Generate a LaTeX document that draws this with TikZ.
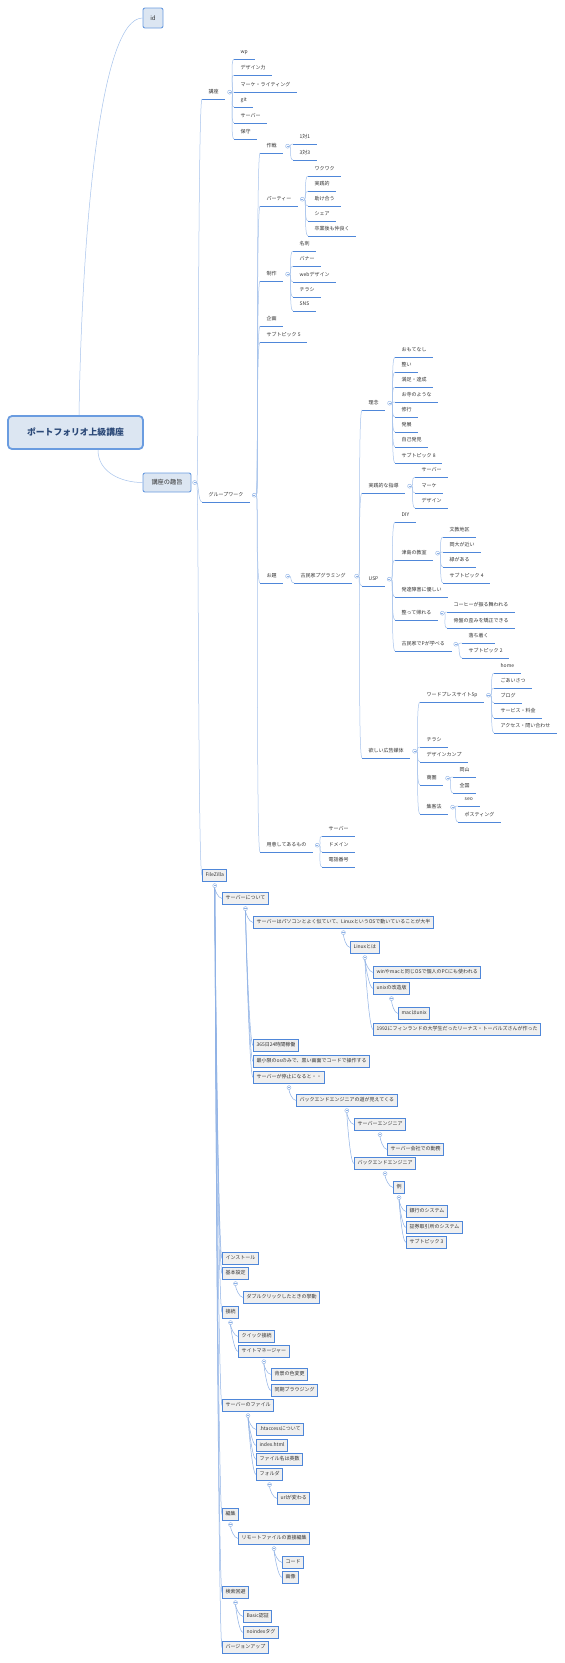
\documentclass[tikz,border=0pt]{standalone}
\usepackage{fontspec}
\setmainfont{Noto Sans CJK JP}
\usepackage{xcolor}
\usetikzlibrary{positioning}
\definecolor{ln}{HTML}{A6C3EC}
\definecolor{dn}{HTML}{8EB1E6}
\definecolor{ul}{HTML}{4F87D9}
\definecolor{bx}{HTML}{4F87D9}
\definecolor{boxfill}{HTML}{EFEFEF}
\definecolor{hubfill}{HTML}{DCE6F2}
\definecolor{hubline}{HTML}{6A9CE0}
\definecolor{txt}{HTML}{333333}
\definecolor{fl}{HTML}{8DB1E6}
\definecolor{ttl}{HTML}{2A4877}

\begin{document}
\begin{tikzpicture}[
  x=1pt, y=-1pt,
  font=\fontsize{5}{6}\selectfont, text=txt,
  topic/.style={anchor=south west, inner xsep=6.5pt, inner ysep=4.1pt,
    text height=4pt, text depth=1pt,
    append after command={\pgfextra{\let\ulnode=\tikzlastnode}
      (\ulnode.south west) edge[draw=ul, line width=1pt] (\ulnode.south east)}},
  card/.style={draw=bx, line width=1.1pt, fill=boxfill, anchor=north west,
    inner xsep=3pt, inner ysep=3.4pt, text height=4pt, text depth=1pt},
  hub/.style={draw=hubline, line width=.9pt, fill=hubfill, rounded corners=2pt,
    inner sep=0pt, align=center},
  root/.style={hub, line width=1.8pt, rounded corners=4pt,
    font=\fontsize{8.8}{10}\selectfont\bfseries, text=ttl},
  fold/.style={circle, draw=fl, fill=white, line width=.4pt, minimum size=4pt,
    inner sep=0pt, path picture={\draw[fl, line width=.4pt]
      ([xshift=-1.1pt]path picture bounding box.center) --
      ([xshift=1.1pt]path picture bounding box.center);}},
  branch/.style={every edge/.style={draw=ln, line width=.5pt,
    to path={.. controls +(4,0) and +(-4,0) .. (\tikztotarget)}}},
  drop/.style={every edge/.style={draw=dn, line width=.5pt,
    to path={.. controls +(0,4) and +(-4,0) .. (\tikztotarget)}}}
]
\fill[white] (0,0) rectangle (565,1663);
\useasboundingbox (0,0) rectangle (565,1663);

% root, id, gist
\node[root, minimum width=135pt, minimum height=33pt] (root) at (75.5,432.5) {ポートフォリオ上級講座};
\node[hub, minimum width=20pt, minimum height=20pt, font=\fontsize{6}{7}\selectfont] (id) at (153,18) {id};
\node[hub, minimum width=48pt, minimum height=19pt, font=\fontsize{6.2}{7}\selectfont] (gist) at (167,482.5) {講座の趣旨};
\node[fold, right=1pt of gist] (gist-c) {};

% 講座
\node[topic] (kz) at (202,99) {講座};
\node[fold, right=2pt of kz] (kz-c) {};
\node[topic] (wp) at (234,59) {wp};
\node[topic] (dz) at (234,75) {デザイン力};
\node[topic] (mk) at (234,92) {マーケ・ライティング};
\node[topic] (gt) at (234,107) {git};
\node[topic] (sv1) at (234,123) {サーバー};
\node[topic] (hs) at (234,139) {保守};

% グループワーク
\node[topic] (gw) at (202,502) {グループワーク};
\node[fold, right=2pt of gw] (gw-c) {};
\node[topic] (sk) at (260,153) {作戦};
\node[fold, right=2pt of sk] (sk-c) {};
\node[topic] (s11) at (293,144) {1対1};
\node[topic] (s33) at (293,160) {3対3};
\node[topic] (pt) at (260,206) {パーティー};
\node[fold, right=2pt of pt] (pt-c) {};
\node[topic] (p1) at (308,176) {ワクワク};
\node[topic] (p2) at (308,191) {実践的};
\node[topic] (p3) at (308,206) {助け合う};
\node[topic] (p4) at (308,221) {シェア};
\node[topic] (p5) at (308,236) {卒業後も仲良く};
\node[topic] (ss) at (260,281) {制作};
\node[fold, right=2pt of ss] (ss-c) {};
\node[topic] (m1) at (293,251) {名刺};
\node[topic] (m2) at (293,266) {バナー};
\node[topic] (m3) at (293,282) {webデザイン};
\node[topic] (m4) at (293,297) {チラシ};
\node[topic] (m5) at (293,311) {SNS};
\node[topic] (kk) at (260,326) {企画};
\node[topic] (st5) at (260,342) {サブトピック 5};
\node[topic] (od) at (260,583) {お題};
\node[fold, right=2pt of od] (od-c) {};
\node[topic] (kp) at (294,583) {古民家プグラミング};
\node[fold, right=2pt of kp] (kp-c) {};

\node[topic] (rn) at (362,410) {理念};
\node[fold, right=2pt of rn] (rn-c) {};
\node[topic] (r1) at (395,357) {おもてなし};
\node[topic] (r2) at (395,372) {整い};
\node[topic] (r3) at (395,387) {満足・達成};
\node[topic] (r4) at (395,402) {お寺のような};
\node[topic] (r5) at (395,417) {修行};
\node[topic] (r6) at (395,432) {発展};
\node[topic] (r7) at (395,447) {自己発見};
\node[topic] (r8) at (395,463) {サブトピック 8};

\node[topic] (jd) at (362,493) {実践的な指導};
\node[fold, right=2pt of jd] (jd-c) {};
\node[topic] (j1) at (415,477) {サーバー};
\node[topic] (j2) at (415,493) {マーケ};
\node[topic] (j3) at (415,508) {デザイン};

\node[topic] (usp) at (362,586) {USP};
\node[fold, right=2pt of usp] (usp-c) {};
\node[topic] (u1) at (395,522) {DIY};
\node[topic] (u2) at (395,560) {津島の教室};
\node[fold, right=2pt of u2] (u2-c) {};
\node[topic] (t1) at (443,537) {文教地区};
\node[topic] (t2) at (443,552) {岡大が近い};
\node[topic] (t3) at (443,567) {緑がある};
\node[topic] (t4) at (443,583) {サブトピック 4};
\node[topic] (u3) at (395,597) {発達障害に優しい};
\node[topic] (u4) at (395,620) {整って帰れる};
\node[fold, right=2pt of u4] (u4-c) {};
\node[topic] (c1) at (447,612) {コーヒーが振る舞われる};
\node[topic] (c2) at (447,628) {骨盤の歪みを矯正できる};
\node[topic] (u5) at (395,651) {古民家でPが学べる};
\node[fold, right=2pt of u5] (u5-c) {};
\node[topic] (o1) at (462,643) {落ち着く};
\node[topic] (o2) at (462,658) {サブトピック 2};

\node[topic] (hk) at (362,758) {欲しい広告媒体};
\node[fold, right=2pt of hk] (hk-c) {};
\node[topic] (h1) at (420,702) {ワードプレスサイト5p};
\node[fold, right=2pt of h1] (h1-c) {};
\node[topic] (w1) at (494,673) {home};
\node[topic] (w2) at (494,688) {ごあいさつ};
\node[topic] (w3) at (494,703) {ブログ};
\node[topic] (w4) at (494,718) {サービス・料金};
\node[topic] (w5) at (494,733) {アクセス・問い合わせ};
\node[topic] (h2) at (420,747) {チラシ};
\node[topic] (h3) at (420,762) {デザインカンプ};
\node[topic] (h4) at (420,785) {商圏};
\node[fold, right=2pt of h4] (h4-c) {};
\node[topic] (a1) at (453,777) {岡山};
\node[topic] (a2) at (453,793) {全国};
\node[topic] (h5) at (420,814) {集客法};
\node[fold, right=2pt of h5] (h5-c) {};
\node[topic] (q1) at (458,806) {seo};
\node[topic] (q2) at (458,822) {ポスティング};

\node[topic] (yo) at (260,852) {用意してあるもの};
\node[fold, right=2pt of yo] (yo-c) {};
\node[topic] (y1) at (322,836) {サーバー};
\node[topic] (y2) at (322,852) {ドメイン};
\node[topic] (y3) at (322,867) {電話番号};

% FileZilla
\node[card] (fz) at (202,869) {FileZilla};
\node[fold, below=1.5pt of fz] (fz-c) {};
\node[card] (sv) at (222,892) {サーバーについて};
\node[fold, below=1.5pt of sv] (sv-c) {};
\node[card] (b1) at (253,916) {サーバーはパソコンとよく似ていて、LinuxというOSで動いていることが大半};
\node[fold, below=1.5pt of b1] (b1-c) {};
\node[card] (lx) at (350,941) {Linuxとは};
\node[fold, below=1.5pt of lx] (lx-c) {};
\node[card] (l1) at (373,966) {winやmacと同じOSで個人のPCにも使われる};
\node[card] (l2) at (373,982) {unixの改造版};
\node[fold, below=1.5pt of l2] (l2-c) {};
\node[card] (l4) at (398,1007) {macはunix};
\node[card] (l3) at (373,1023) {1992にフィンランドの大学生だったリーナス・トーバルズさんが作った};
\node[card] (b2) at (253,1039) {365日24時間稼働};
\node[card] (b3) at (253,1055) {最小限のosのみで、黒い画面でコードで操作する};
\node[card] (b4) at (253,1071) {サーバーが停止になると・・};
\node[fold, below=1.5pt of b4] (b4-c) {};
\node[card] (be) at (296,1094) {バックエンドエンジニアの道が見えてくる};
\node[fold, below=1.5pt of be] (be-c) {};
\node[card] (se) at (354,1118) {サーバーエンジニア};
\node[fold, below=1.5pt of se] (se-c) {};
\node[card] (sc) at (387,1143) {サーバー会社での勤務};
\node[card] (bk) at (354,1157) {バックエンドエンジニア};
\node[fold, below=1.5pt of bk] (bk-c) {};
\node[card] (ex) at (393,1181) {例};
\node[fold, below=1.5pt of ex] (ex-c) {};
\node[card] (e1) at (406,1205) {銀行のシステム};
\node[card] (e2) at (406,1221) {証券取引所のシステム};
\node[card] (e3) at (406,1236) {サブトピック 3};
\node[card] (ins) at (222,1252) {インストール};
\node[card] (kh) at (222,1267) {基本設定};
\node[fold, below=1.5pt of kh] (kh-c) {};
\node[card] (dc) at (243,1291) {ダブルクリックしたときの挙動};
\node[card] (cn) at (222,1306) {接続};
\node[fold, below=1.5pt of cn] (cn-c) {};
\node[card] (qc) at (238,1330) {クイック接続};
\node[card] (sm) at (238,1345) {サイトマネージャー};
\node[fold, below=1.5pt of sm] (sm-c) {};
\node[card] (bg) at (271,1368) {背景の色変更};
\node[card] (sy) at (271,1384) {同期ブラウジング};
\node[card] (sf) at (222,1399) {サーバーのファイル};
\node[fold, below=1.5pt of sf] (sf-c) {};
\node[card] (f1) at (256,1423) {.htaccessについて};
\node[card] (f2) at (256,1439) {index.html};
\node[card] (f3) at (256,1453) {ファイル名は英数};
\node[card] (f4) at (256,1468) {フォルダ};
\node[fold, below=1.5pt of f4] (f4-c) {};
\node[card] (f5) at (277,1492) {urlが変わる};
\node[card] (ed) at (222,1508) {編集};
\node[fold, below=1.5pt of ed] (ed-c) {};
\node[card] (rf) at (238,1532) {リモートファイルの直接編集};
\node[fold, below=1.5pt of rf] (rf-c) {};
\node[card] (cd) at (282,1556) {コード};
\node[card] (im) at (282,1571) {画像};
\node[card] (sr) at (222,1586) {検索回避};
\node[fold, below=1.5pt of sr] (sr-c) {};
\node[card] (ba) at (243,1610) {Basic認証};
\node[card] (ni) at (243,1626) {noindexタグ};
\node[card] (vu) at (222,1641) {バージョンアップ};

% connectors
\draw[ln, line width=.5pt] ([xshift=3.5pt]root.north) .. controls (82,230) and (100,18) .. (id.west);
\draw[ln, line width=.5pt] ([xshift=22.5pt]root.south) .. controls +(0,22) and +(-22,0) .. (gist.west);
\path[branch] (gist-c) edge (kz.south west) edge (gw.south west) edge (fz.west);
\path[branch] (kz-c) edge (wp.south west) edge (dz.south west) edge (mk.south west)
  edge (gt.south west) edge (sv1.south west) edge (hs.south west);
\path[branch] (gw-c) edge (sk.south west) edge (pt.south west) edge (ss.south west)
  edge (kk.south west) edge (st5.south west) edge (od.south west) edge (yo.south west);
\path[branch] (sk-c) edge (s11.south west) edge (s33.south west);
\path[branch] (pt-c) edge (p1.south west) edge (p2.south west) edge (p3.south west)
  edge (p4.south west) edge (p5.south west);
\path[branch] (ss-c) edge (m1.south west) edge (m2.south west) edge (m3.south west)
  edge (m4.south west) edge (m5.south west);
\path[branch] (od-c) edge (kp.south west);
\path[branch] (kp-c) edge (rn.south west) edge (jd.south west) edge (usp.south west)
  edge (hk.south west);
\path[branch] (rn-c) edge (r1.south west) edge (r2.south west) edge (r3.south west)
  edge (r4.south west) edge (r5.south west) edge (r6.south west) edge (r7.south west)
  edge (r8.south west);
\path[branch] (jd-c) edge (j1.south west) edge (j2.south west) edge (j3.south west);
\path[branch] (usp-c) edge (u1.south west) edge (u2.south west) edge (u3.south west)
  edge (u4.south west) edge (u5.south west);
\path[branch] (u2-c) edge (t1.south west) edge (t2.south west) edge (t3.south west)
  edge (t4.south west);
\path[branch] (u4-c) edge (c1.south west) edge (c2.south west);
\path[branch] (u5-c) edge (o1.south west) edge (o2.south west);
\path[branch] (hk-c) edge (h1.south west) edge (h2.south west) edge (h3.south west)
  edge (h4.south west) edge (h5.south west);
\path[branch] (h1-c) edge (w1.south west) edge (w2.south west) edge (w3.south west)
  edge (w4.south west) edge (w5.south west);
\path[branch] (h4-c) edge (a1.south west) edge (a2.south west);
\path[branch] (h5-c) edge (q1.south west) edge (q2.south west);
\path[branch] (yo-c) edge (y1.south west) edge (y2.south west) edge (y3.south west);

\path[drop] (fz-c) edge (sv.west) edge (ins.west) edge (kh.west) edge (cn.west)
  edge (sf.west) edge (ed.west) edge (sr.west) edge (vu.west);
\path[drop] (sv-c) edge (b1.west) edge (b2.west) edge (b3.west) edge (b4.west);
\path[drop] (b1-c) edge (lx.west);
\path[drop] (lx-c) edge (l1.west) edge (l2.west) edge (l3.west);
\path[drop] (l2-c) edge (l4.west);
\path[drop] (b4-c) edge (be.west);
\path[drop] (be-c) edge (se.west) edge (bk.west);
\path[drop] (se-c) edge (sc.west);
\path[drop] (bk-c) edge (ex.west);
\path[drop] (ex-c) edge (e1.west) edge (e2.west) edge (e3.west);
\path[drop] (kh-c) edge (dc.west);
\path[drop] (cn-c) edge (qc.west) edge (sm.west);
\path[drop] (sm-c) edge (bg.west) edge (sy.west);
\path[drop] (sf-c) edge (f1.west) edge (f2.west) edge (f3.west) edge (f4.west);
\path[drop] (f4-c) edge (f5.west);
\path[drop] (ed-c) edge (rf.west);
\path[drop] (rf-c) edge (cd.west) edge (im.west);
\path[drop] (sr-c) edge (ba.west) edge (ni.west);
\end{tikzpicture}
\end{document}
